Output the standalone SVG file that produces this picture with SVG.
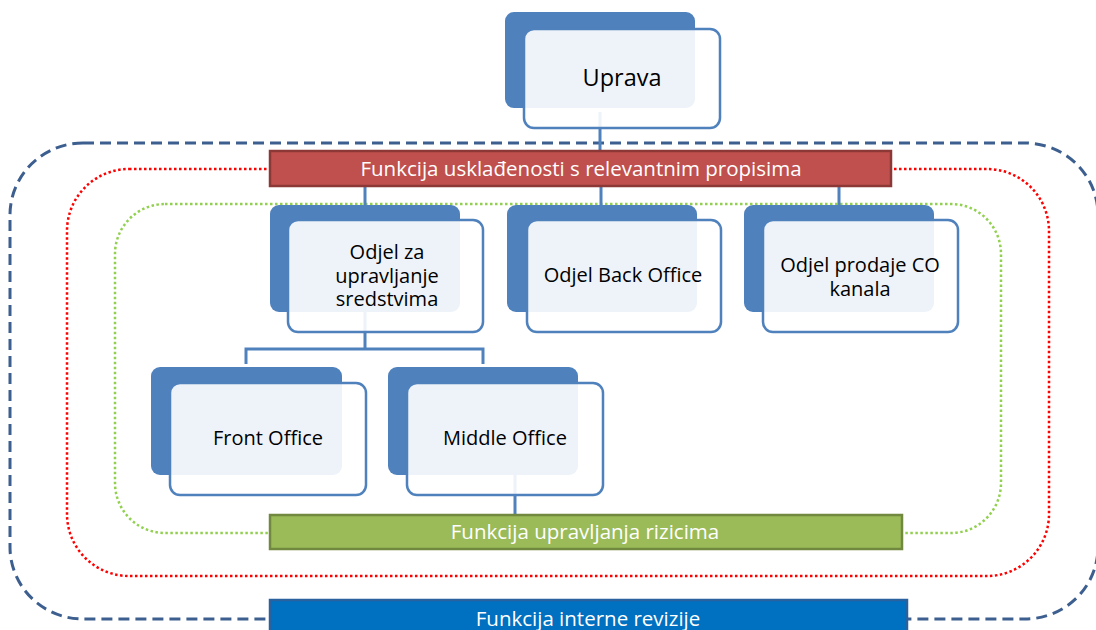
<svg xmlns="http://www.w3.org/2000/svg" width="1096" height="630" viewBox="0 0 1096 630">
<defs>
<style>
.back{fill:#4f81bd;}
.front{fill:#ffffff;fill-opacity:0.9;stroke:#4f81bd;stroke-width:2.5;}
.lbl{font-family:"Open Sans","Liberation Sans",sans-serif;font-size:20px;fill:#000;text-anchor:middle;}
.bar{font-family:"Open Sans","Liberation Sans",sans-serif;font-size:20.5px;fill:#fff;text-anchor:middle;}
.conn{stroke:#4f81bd;stroke-width:3;fill:none;}
</style>
</defs>
<rect width="1096" height="630" fill="#fff"/>
<g id="boundaries" fill="none">
<rect x="10" y="143" width="1088" height="476" rx="73" ry="72" stroke="#3d5f8f" stroke-width="3" stroke-dasharray="11 6"/>
<rect x="67" y="169" width="982" height="407" rx="62" ry="62" stroke="#ff0000" stroke-width="2.5" stroke-dasharray="2.5 2.5"/>
<rect x="115" y="204" width="886" height="329" rx="50" ry="50" stroke="#92d050" stroke-width="2.5" stroke-dasharray="2.5 2.5"/>
</g>
<g id="connectors" class="conn">
<line x1="600" y1="112" x2="600" y2="151"/>
<line x1="365" y1="186" x2="365" y2="205"/>
<line x1="601" y1="186" x2="601" y2="205"/>
<line x1="839" y1="186" x2="839" y2="205"/>
<line x1="365" y1="312" x2="365" y2="349"/>
<polyline points="246,364 246,349 483,349 483,364"/>
<line x1="515" y1="475" x2="515" y2="515"/>
</g>
<g id="uprava">
<rect class="back" x="505" y="12" width="190" height="96" rx="9"/>
<rect class="front" x="524" y="29" width="196" height="99" rx="10"/>
<text class="lbl" x="622" y="86" style="font-size:23.5px">Uprava</text>
</g>
<g id="uskladenost">
<rect x="270" y="151" width="621" height="35" fill="#c0504d" stroke="#8c3836" stroke-width="2.5"/>
<text class="bar" x="581" y="176">Funkcija usklađenosti s relevantnim propisima</text>
</g>
<g id="odjel-sredstva">
<rect class="back" x="270" y="205" width="190" height="107" rx="9"/>
<rect class="front" x="288" y="220" width="195" height="112" rx="10"/>
<text class="lbl" x="387" y="259"><tspan x="387">Odjel za</tspan><tspan x="387" dy="23.5">upravljanje</tspan><tspan x="387" dy="23.5">sredstvima</tspan></text>
</g>
<g id="odjel-back-office">
<rect class="back" x="507" y="205" width="190" height="107" rx="9"/>
<rect class="front" x="527" y="220" width="194" height="112" rx="10"/>
<text class="lbl" x="623" y="282">Odjel Back Office</text>
</g>
<g id="odjel-prodaje">
<rect class="back" x="744" y="205" width="190" height="107" rx="9"/>
<rect class="front" x="763" y="220" width="195" height="112" rx="10"/>
<text class="lbl" x="860" y="272"><tspan x="860">Odjel prodaje CO</tspan><tspan x="860" dy="23.5">kanala</tspan></text>
</g>
<g id="front-office">
<rect class="back" x="151" y="367" width="191" height="108" rx="9"/>
<rect class="front" x="170" y="383" width="196" height="112" rx="10"/>
<text class="lbl" x="268" y="445">Front Office</text>
</g>
<g id="middle-office">
<rect class="back" x="388" y="367" width="190" height="108" rx="9"/>
<rect class="front" x="407" y="383" width="196" height="112" rx="10"/>
<text class="lbl" x="505" y="445">Middle Office</text>
</g>
<g id="rizici">
<rect x="270" y="515" width="632" height="34" fill="#9bbb59" stroke="#71893f" stroke-width="2.5"/>
<text class="bar" x="585" y="539">Funkcija upravljanja rizicima</text>
</g>
<g id="revizija">
<rect x="270" y="600" width="637" height="34" fill="#0070c0" stroke="#2a62a0" stroke-width="2.5"/>
<text class="bar" x="588" y="626">Funkcija interne revizije</text>
</g>
</svg>
